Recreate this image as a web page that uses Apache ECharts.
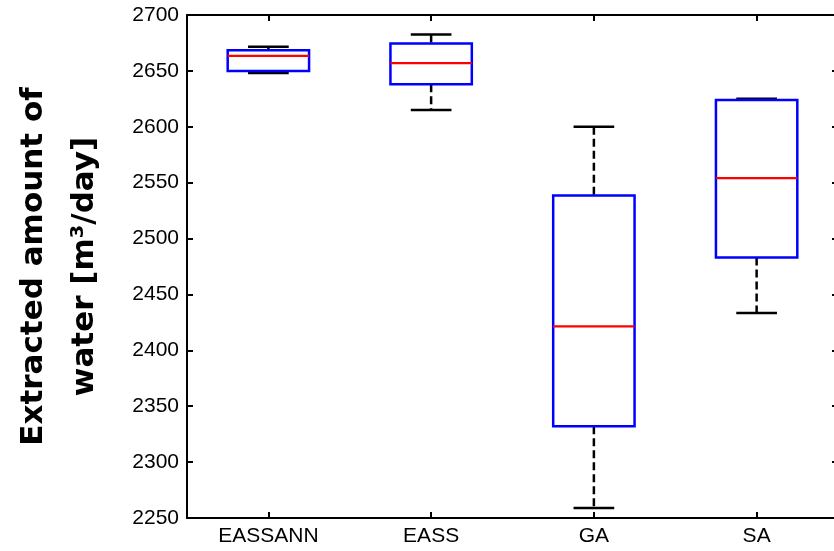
<!DOCTYPE html>
<html>
<head>
<meta charset="utf-8">
<title>Extracted amount of water</title>
<script src="https://cdn.jsdelivr.net/npm/echarts@6/dist/echarts.min.js"></script>
<style>
  html, body { margin: 0; padding: 0; background: #ffffff; overflow: hidden; }
  /* the original figure is cut off just left of its right axis line */
  #main { width: 842px; height: 551px; }
</style>
</head>
<body>
<div id="main"></div>
<script>
// box plot values
const categories = ['EASSANN', 'EASS', 'GA', 'SA'];
const minVals = [2648, 2615, 2259, 2433.5];
const q1Vals = [2650, 2638, 2332, 2483];
const medianVals = [2663.5, 2657, 2421.5, 2554];
const q3Vals = [2668.5, 2674.5, 2538.5, 2624];
const maxVals = [2671.5, 2682.5, 2600, 2625];
const yTicks = { min: 2250, max: 2700, step: 50 };

const chart = echarts.init(document.getElementById('main'), null, { renderer: 'canvas' });

// one row per box: [index, min, q1, median, q3, max]
const boxData = categories.map(function (c, i) {
  return [i, minVals[i], q1Vals[i], medianVals[i], q3Vals[i], maxVals[i]];
});

function renderBox(params, api) {
  const i = api.value(0);
  const band = api.size([1, 0])[0];
  const boxW = band * 0.5;
  const capW = band * 0.25;
  const pMin = api.coord([i, api.value(1)]);
  const pQ1 = api.coord([i, api.value(2)]);
  const pMed = api.coord([i, api.value(3)]);
  const pQ3 = api.coord([i, api.value(4)]);
  const pMax = api.coord([i, api.value(5)]);
  const cx = pMed[0];
  const dashed = { stroke: '#000', lineWidth: 2.5, lineDash: [8, 4] };
  const solid = { stroke: '#000', lineWidth: 2.5 };
  return {
    type: 'group',
    children: [
      { type: 'line', shape: { x1: cx, y1: pMax[1], x2: cx, y2: pQ3[1] }, style: dashed },
      { type: 'line', shape: { x1: cx, y1: pQ1[1], x2: cx, y2: pMin[1] }, style: dashed },
      { type: 'line', shape: { x1: cx - capW / 2, y1: pMax[1], x2: cx + capW / 2, y2: pMax[1] }, style: solid },
      { type: 'line', shape: { x1: cx - capW / 2, y1: pMin[1], x2: cx + capW / 2, y2: pMin[1] }, style: solid },
      {
        type: 'rect',
        shape: { x: cx - boxW / 2, y: pQ3[1], width: boxW, height: pQ1[1] - pQ3[1] },
        style: { fill: 'none', stroke: '#0000ff', lineWidth: 2.5 }
      },
      { type: 'line', shape: { x1: cx - boxW / 2, y1: pMed[1], x2: cx + boxW / 2, y2: pMed[1] }, style: { stroke: '#ff0000', lineWidth: 2.2 } }
    ]
  };
}

const axisLine = { show: true, lineStyle: { color: '#000', width: 2 } };
const tickStyle = { show: true, inside: true, length: 6, lineStyle: { color: '#000', width: 2 } };

const option = {
  backgroundColor: '#ffffff',
  animation: false,
  grid: { left: 185, top: 15, right: 4, bottom: 33 },
  xAxis: [{
    type: 'category',
    position: 'bottom',
    data: categories,
    axisLine: axisLine,
    axisTick: Object.assign({ alignWithLabel: true }, tickStyle),
    axisLabel: { color: '#000', fontSize: 21, fontFamily: 'Liberation Sans', margin: 8 },
    splitLine: { show: false }
  }, {
    type: 'category',
    position: 'top',
    data: categories,
    axisLine: axisLine,
    axisTick: Object.assign({ alignWithLabel: true }, tickStyle),
    axisLabel: { show: false },
    splitLine: { show: false }
  }],
  yAxis: [{
    type: 'value',
    position: 'left',
    min: yTicks.min,
    max: yTicks.max,
    interval: yTicks.step,
    axisLine: axisLine,
    axisTick: tickStyle,
    axisLabel: {
      color: '#000', fontSize: 21, fontFamily: 'Liberation Sans', margin: 8,
      formatter: function (v) { return String(v); }
    },
    splitLine: { show: false },
    name: 'Extracted amount of\nwater [m³/day]',
    nameLocation: 'middle',
    nameRotate: 90,
    nameGap: 77,
    nameTextStyle: { color: '#000', fontSize: 31, fontWeight: 'bold', fontFamily: 'DejaVu Sans', lineHeight: 51 }
  }, {
    type: 'value',
    position: 'right',
    min: yTicks.min,
    max: yTicks.max,
    interval: yTicks.step,
    axisLine: axisLine,
    axisTick: tickStyle,
    axisLabel: { show: false },
    splitLine: { show: false }
  }],
  series: [{
    type: 'custom',
    renderItem: renderBox,
    encode: { x: 0, y: [1, 2, 3, 4, 5] },
    data: boxData
  }]
};

chart.setOption(option);
</script>
</body>
</html>
